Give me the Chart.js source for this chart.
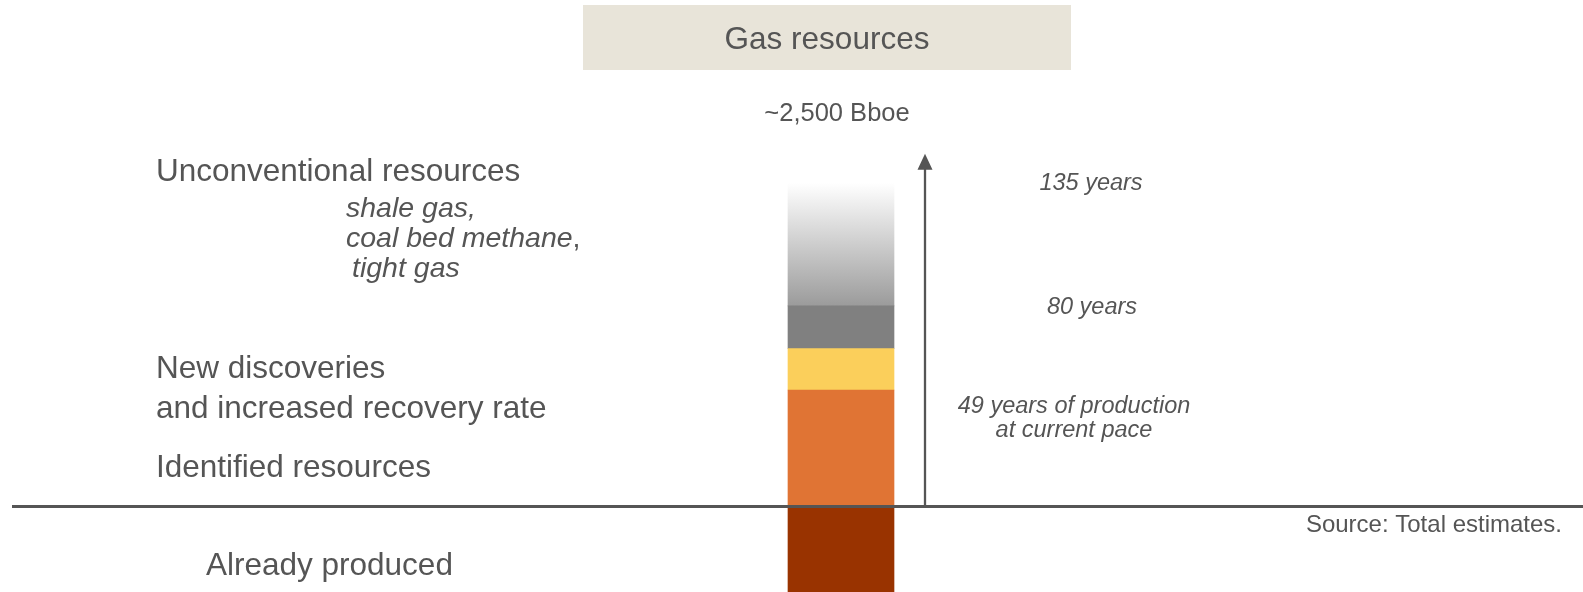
<!DOCTYPE html>
<html>
<head>
<meta charset="utf-8">
<script src="https://cdn.jsdelivr.net/npm/chart.js@4/dist/chart.umd.min.js"></script>
<style>
  body { margin: 0; background: #fff; }
  #wrap { width: 1583px; height: 592px; position: relative; }
</style>
</head>
<body>
<div id="wrap"><canvas id="gas"></canvas></div>
<script>
// values in Bboe
const categories = ['Gas resources'];
const alreadyProduced = [-700];
const identified = [900];
const newDiscoveries = [320];
const otherConventional = [330];
const unconventional = [950];
const arrowTop = 2725;

const FONT = '"Liberation Sans", Arial, sans-serif';
const TEXT = '#555555';

const totalTop = identified[0] + newDiscoveries[0] + otherConventional[0] + unconventional[0];

function unconvFill(ctx) {
    const chart = ctx.chart;
    const y = chart.scales.y;
    if (!y || !chart.chartArea) return '#b0b0b0';
    const base = y.getPixelForValue(totalTop - unconventional[0]);
    const top = y.getPixelForValue(totalTop);
    if (!isFinite(base) || !isFinite(top)) return '#b0b0b0';
    const g = chart.ctx.createLinearGradient(0, base, 0, top);
    g.addColorStop(0, '#9b9b9b');
    g.addColorStop(1, '#ffffff');
    return g;
}

const overlay = {
    id: 'overlay',
    afterDatasetsDraw(chart) {
        const c = chart.ctx;
        const y = chart.scales.y;
        const zero = y.getPixelForValue(0);
        c.save();

        // title box
        c.fillStyle = '#e8e4d9';
        c.fillRect(583, 5, 488, 65);
        c.fillStyle = TEXT;
        c.textAlign = 'center';
        c.textBaseline = 'alphabetic';
        c.font = '31.5px ' + FONT;
        c.fillText('Gas resources', 827, 49);

        c.font = '25.5px ' + FONT;
        c.fillText('~2,500 Bboe', 837, 121);

        // zero line
        c.strokeStyle = '#555555';
        c.lineWidth = 3;
        c.beginPath();
        c.moveTo(12, zero);
        c.lineTo(1583, zero);
        c.stroke();

        // arrow
        const ax = 925;
        const tip = y.getPixelForValue(arrowTop);
        c.lineWidth = 2.3;
        c.beginPath();
        c.moveTo(ax, zero);
        c.lineTo(ax, tip + 12);
        c.stroke();
        c.fillStyle = '#555555';
        c.beginPath();
        c.moveTo(ax, tip);
        c.lineTo(ax - 7.5, tip + 16);
        c.lineTo(ax + 7.5, tip + 16);
        c.closePath();
        c.fill();

        // left labels
        c.fillStyle = TEXT;
        c.textAlign = 'left';
        c.font = '31.5px ' + FONT;
        c.fillText('Unconventional resources', 156, 181);
        c.fillText('New discoveries', 156, 378);
        c.fillText('and increased recovery rate', 156, 418);
        c.fillText('Identified resources', 156, 477);
        c.fillText('Already produced', 206, 575);

        c.font = 'italic 28.5px ' + FONT;
        c.fillText('shale gas,', 346, 217);
        c.fillText('coal bed methane', 346, 247);
        const w = c.measureText('coal bed methane').width;
        c.font = '28.5px ' + FONT;
        c.fillText(',', 346 + w, 247);
        c.font = 'italic 28.5px ' + FONT;
        c.fillText('tight gas', 352, 277);

        // right labels
        c.textAlign = 'center';
        c.font = 'italic 23.5px ' + FONT;
        c.fillText('135 years', 1091, 190);
        c.fillText('80 years', 1092, 314);
        c.fillText('49 years of production', 1074, 413);
        c.fillText('at current pace', 1074, 437);

        c.textAlign = 'right';
        c.font = '24px ' + FONT;
        c.fillText('Source: Total estimates.', 1562, 532);

        c.restore();
    }
};

new Chart(document.getElementById('gas'), {
    type: 'bar',
    data: {
        labels: categories,
        datasets: [
            { label: 'Already produced', data: alreadyProduced, backgroundColor: '#993300' },
            { label: 'Identified resources', data: identified, backgroundColor: '#e07434' },
            { label: 'New discoveries and increased recovery rate', data: newDiscoveries, backgroundColor: '#fbcf5b' },
            { label: 'Other', data: otherConventional, backgroundColor: '#808080' },
            { label: 'Unconventional resources', data: unconventional, backgroundColor: unconvFill }
        ]
    },
    options: {
        responsive: true,
        maintainAspectRatio: false,
        animation: false,
        layout: { padding: { left: 99, right: 0, top: 0, bottom: 0 } },
        datasets: { bar: { barThickness: 106, borderWidth: 0 } },
        plugins: { legend: { display: false }, tooltip: { enabled: false } },
        scales: {
            x: { stacked: true, display: false },
            y: { stacked: true, display: false, min: -661, max: 3914 }
        }
    },
    plugins: [overlay]
});
</script>
</body>
</html>
